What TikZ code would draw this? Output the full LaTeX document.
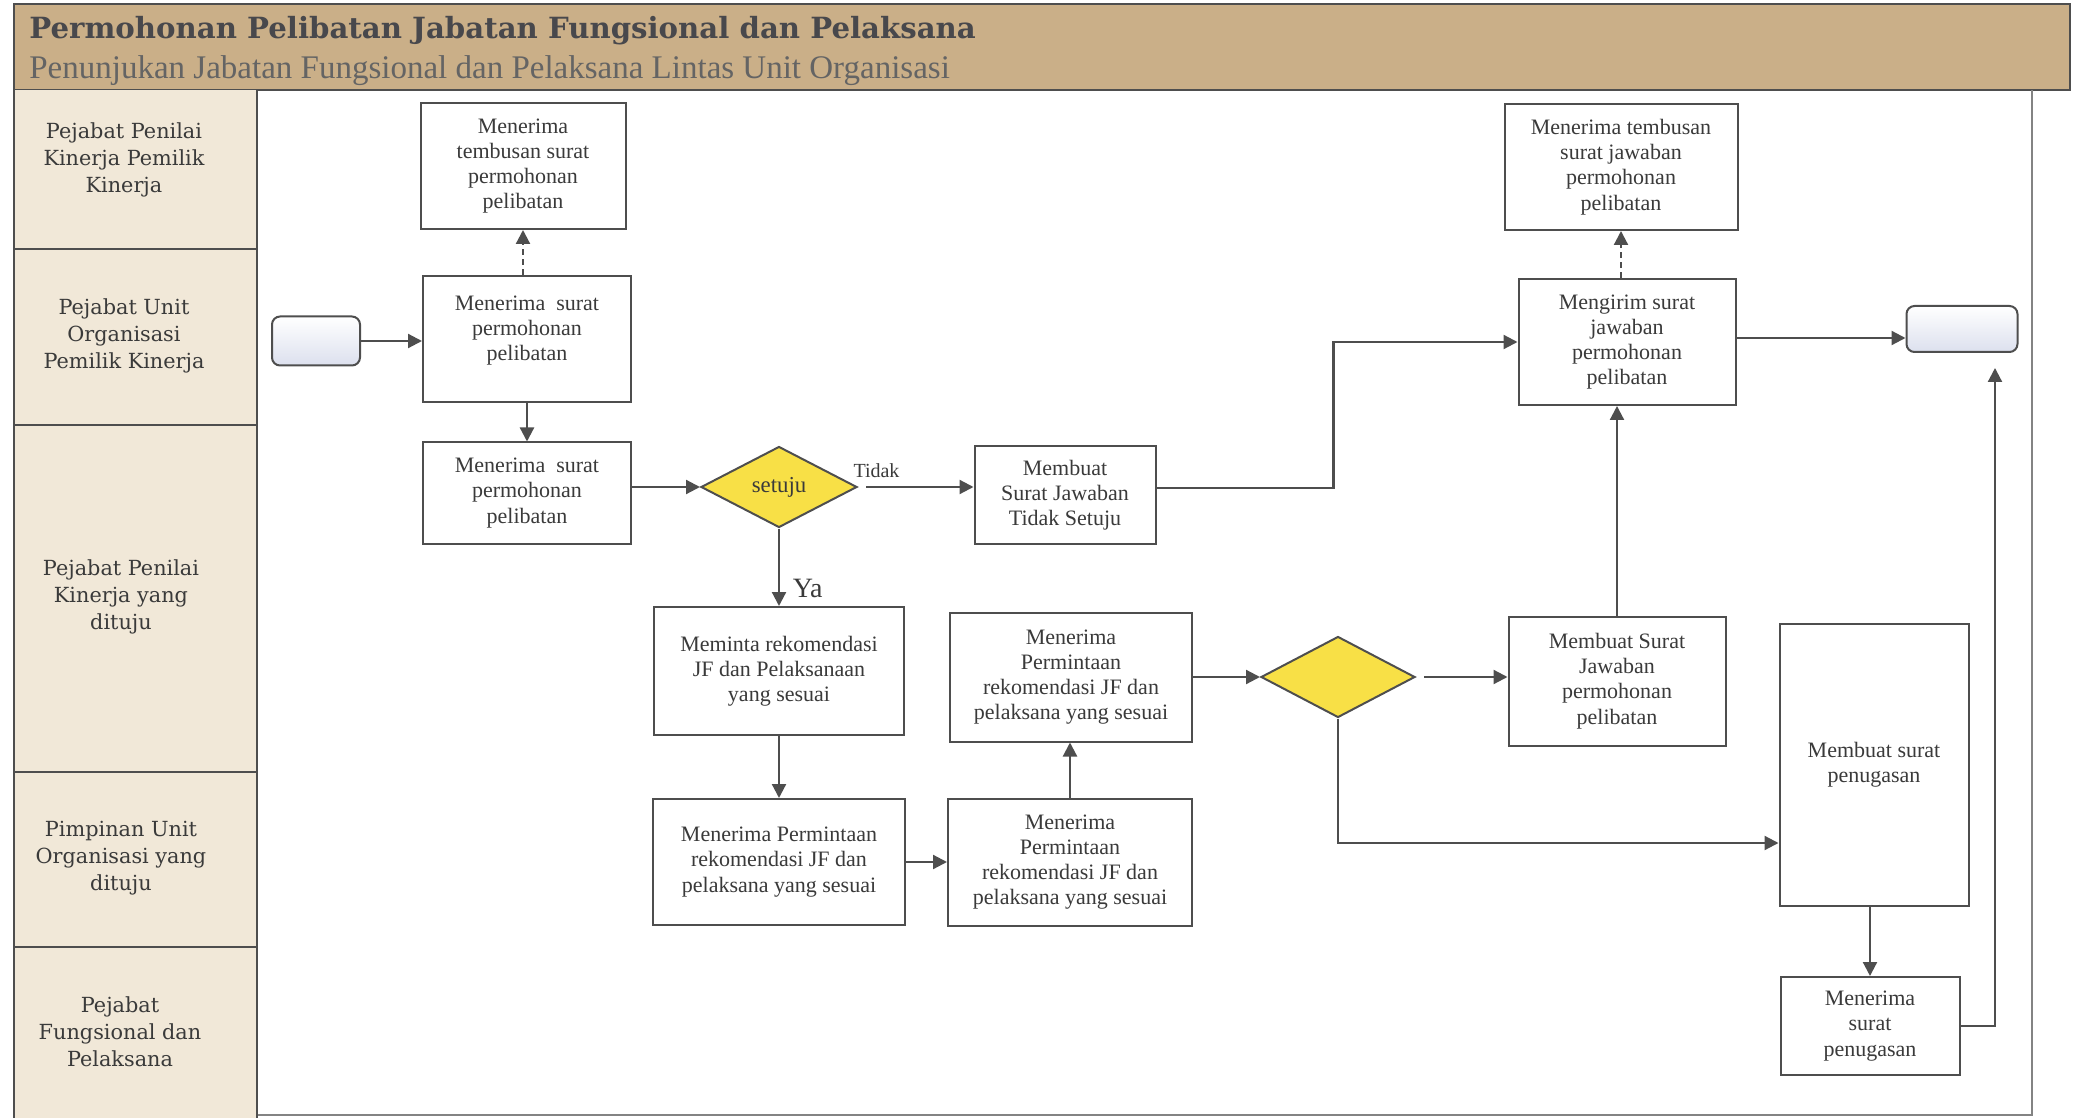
\documentclass[tikz,border=0pt]{standalone}
\usepackage{fontspec}
\setmainfont{Liberation Serif}
\newfontfamily\lanefont{DejaVu Serif}
\usetikzlibrary{shapes.geometric,arrows.meta}

\definecolor{headtan}{RGB}{202,175,136}
\definecolor{lanebg}{RGB}{241,232,216}
\definecolor{ink}{RGB}{58,58,58}
\definecolor{edge}{RGB}{78,78,78}
\definecolor{decide}{RGB}{248,224,70}
\definecolor{termfill}{RGB}{220,224,238}

\begin{document}
\begin{tikzpicture}[x=0.5pt,y=-0.5pt,
  sz/.style 2 args={minimum width=#1*0.5pt, minimum height=#2*0.5pt},
  task/.style={rectangle, draw=edge, line width=1pt, fill=white, inner sep=0pt,
    align=center, text=ink, font=\fontsize{11}{12.6}\selectfont},
  decision/.style={diamond, draw=edge, line width=1pt, fill=decide, inner sep=0pt,
    text=ink, font=\fontsize{11.4}{13}\selectfont},
  terminal/.style={rectangle, rounded corners=4pt, draw=edge, line width=1pt,
    top color=white, bottom color=termfill, inner sep=0pt},
  lanelabel/.style={align=center, text=ink, font=\lanefont\fontsize{10.4}{13.6}\selectfont},
  flow/.style={draw=edge, line width=1.1pt, -{Triangle[length=7pt,width=7pt]}},
  copyflow/.style={flow, dash pattern=on 3pt off 2pt},
  lane/.style={draw=edge, line width=0.9pt}
]
\useasboundingbox (0,0) rectangle (2074,1118);

% header band
\fill[headtan] (14,4) rectangle (2070,90);
\draw[edge, line width=0.9pt] (14,4) rectangle (2070,90);
\node[anchor=west, inner sep=0pt, text={rgb,255:red,72;green,72;blue,76},
  font=\lanefont\bfseries\fontsize{14.6}{16}\selectfont] (title) at (29,31)
  {Permohonan Pelibatan Jabatan Fungsional dan Pelaksana};
\node[anchor=west, inner sep=0pt, text={rgb,255:red,100;green,100;blue,100},
  font=\fontsize{16.5}{18}\selectfont] (subtitle) at (29,71)
  {Penunjukan Jabatan Fungsional dan Pelaksana Lintas Unit Organisasi};

% swimlane frame
\draw[edge!70, line width=0.6pt] (257,1115) -- (2032,1115) -- (2032,90);
\fill[lanebg] (14,90) rectangle (257,1118);
\draw[lane] (14,90) -- (14,1118);
\draw[lane] (257,90) -- (257,1118);
\foreach \yy in {249,425,772,947} \draw[lane] (14,\yy) -- (257,\yy);

\node[lanelabel] (l1) at (124,160) {Pejabat Penilai\\Kinerja Pemilik\\Kinerja};
\node[lanelabel] (l2) at (124,336) {Pejabat Unit\\Organisasi\\Pemilik Kinerja};
\node[lanelabel] (l3) at (121,597) {Pejabat Penilai\\Kinerja yang\\dituju};
\node[lanelabel] (l4) at (121,858) {Pimpinan Unit\\Organisasi yang\\dituju};
\node[lanelabel] (l5) at (120,1032) {Pejabat\\Fungsional dan\\Pelaksana};

% process nodes
\node[terminal, sz={88}{49}] (start) at (316,341) {};
\node[terminal, sz={111}{46}] (finish) at (1962,329) {};

\node[task, sz={205}{126}] (tembusan) at (523,166)
  {Menerima\\tembusan surat\\permohonan\\pelibatan};
\node[task, sz={208}{126}] (terima) at (527,339)
  {Menerima\ \ surat\\permohonan\\pelibatan\\[-1.6pt]};
\node[task, sz={208}{101}] (terimanilai) at (527,493)
  {Menerima\ \ surat\\permohonan\\pelibatan};
\node[decision, sz={156}{81}] (setuju) at (779,487) {setuju};
\node[task, sz={181}{98}] (tolak) at (1065,495)
  {Membuat\\Surat Jawaban\\Tidak Setuju};
\node[task, sz={250}{128}] (minta) at (779,671)
  {Meminta rekomendasi\\JF dan Pelaksanaan\\yang sesuai};
\node[task, sz={242}{129}] (terimarek) at (1071,677)
  {Menerima\\Permintaan\\rekomendasi JF dan\\pelaksana yang sesuai};
\node[decision, sz={154}{81}] (cek) at (1338,677) {};
\node[task, sz={217}{129}] (jawab) at (1617,681)
  {Membuat Surat\\Jawaban\\permohonan\\pelibatan};
\node[task, sz={189}{282}] (tugas) at (1874,765)
  {Membuat surat\\penugasan};
\node[task, sz={179}{98}] (terimatugas) at (1870,1026)
  {Menerima\\surat\\penugasan};
\node[task, sz={252}{126}] (pimpinanA) at (779,862)
  {Menerima Permintaan\\rekomendasi JF dan\\pelaksana yang sesuai};
\node[task, sz={244}{127}] (pimpinanB) at (1070,862)
  {Menerima\\Permintaan\\rekomendasi JF dan\\pelaksana yang sesuai};
\node[task, sz={217}{126}] (kirim) at (1627,342)
  {Mengirim surat\\jawaban\\permohonan\\pelibatan};
\node[task, sz={233}{126}] (tembusanjawab) at (1621,167)
  {Menerima tembusan\\surat jawaban\\permohonan\\pelibatan};

\coordinate (finishin) at (1995,368);

% connectors
\draw[flow] (start.east) -- (start.east -| terima.west);
\draw[copyflow] (terima.north -| tembusan) -- (tembusan.south);
\draw[flow] (terima.south) -- (terimanilai.north);
\draw[flow] (terimanilai.east |- setuju) -- (setuju.west);
\draw[flow, shorten <=4pt] (setuju.east) -- (setuju.east -| tolak.west)
  node[pos=0.16, above=1pt, text=ink, font=\fontsize{10}{11}\selectfont] (tidak) {Tidak};
\draw[flow] (setuju.south) -- (minta.north)
  node[pos=0.78, right=3pt, text=ink, font=\fontsize{14}{15}\selectfont] (ya) {Ya};
\draw[flow] ([yshift=3.5pt]tolak.east) -- ++(177,0) |- (kirim.west);
\draw[flow] (minta.south) -- (minta.south |- pimpinanA.north);
\draw[flow] (pimpinanA.east) -- (pimpinanB.west);
\draw[flow] (pimpinanB.north) -- (pimpinanB.north |- terimarek.south);
\draw[flow] (terimarek.east) -- (cek.west);
\draw[flow, shorten <=4pt] (cek.east) -- (cek.east -| jawab.west);
\draw[flow] (jawab.north) -- (jawab.north |- kirim.south);
\draw[copyflow] (tembusanjawab.south |- kirim.north) -- (tembusanjawab.south);
\draw[flow] ([yshift=2pt]kirim.east) -- ([yshift=2pt]kirim.east -| finish.west);
\draw[flow] (cek.south) |- ([yshift=-39pt]tugas.west);
\draw[flow] (tugas.south -| terimatugas) -- (terimatugas.north);
\draw[flow] (terimatugas.east) -| (finishin);
\end{tikzpicture}
\end{document}
